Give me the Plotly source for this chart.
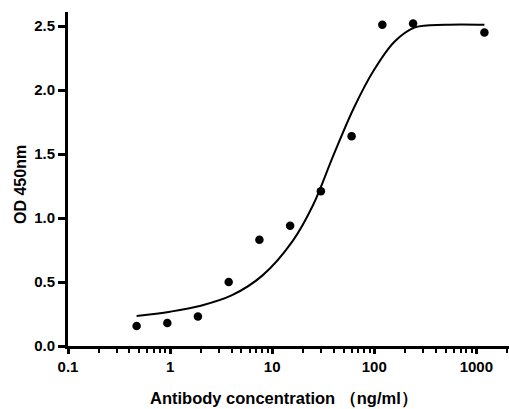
import plotly.graph_objects as go

# Measured points
conc = [0.47, 0.94, 1.875, 3.75, 7.5, 15, 30, 60, 120, 240, 1200]
od = [0.156, 0.18, 0.23, 0.50, 0.83, 0.94, 1.21, 1.64, 2.51, 2.52, 2.45]

# Fitted curve
curve_x = [0.47, 1.0, 2.0, 4.0, 8.0, 15.85, 25.1, 39.8, 63.1, 100, 158.5, 251, 500, 1200]
curve_y = [0.234, 0.268, 0.315, 0.395, 0.55, 0.82, 1.10, 1.49, 1.86, 2.16, 2.38, 2.49, 2.51, 2.51]

x_ticks = [0.1, 1, 10, 100, 1000]
x_labels = ["0.1", "1", "10", "100", "1000"]
y_ticks = [0.0, 0.5, 1.0, 1.5, 2.0, 2.5]
y_labels = ["0.0", "0.5", "1.0", "1.5", "2.0", "2.5"]
x_title = "Antibody concentration （ng/ml）"
y_title = "OD 450nm"

minor_vals = [m * 10 ** e for e in range(-1, 4) for m in range(2, 10) if m * 10 ** e < 2100]

font = "Liberation Sans, Arial, sans-serif"

fig = go.Figure()
fig.add_trace(go.Scatter(x=curve_x, y=curve_y, mode="lines",
                         line=dict(color="black", width=2, shape="spline", smoothing=1.0),
                         hoverinfo="skip", showlegend=False))
fig.add_trace(go.Scatter(x=conc, y=od, mode="markers",
                         marker=dict(color="black", size=8.5),
                         showlegend=False))

fig.update_layout(
    width=509, height=409,
    margin=dict(l=68, r=0, t=12, b=63, autoexpand=False),
    paper_bgcolor="white", plot_bgcolor="white",
    font=dict(family=font, color="black"),
    annotations=[
        dict(text=x_title, xref="paper", yref="paper", x=0.5, y=0,
             xanchor="center", yanchor="middle", yshift=-52, xshift=-5, showarrow=False,
             font=dict(family=font, size=16.5, color="black", weight="bold")),
        dict(text=y_title, xref="paper", yref="paper", x=0, y=0.5,
             xanchor="center", yanchor="middle", xshift=-48, yshift=-6, textangle=-90,
             showarrow=False,
             font=dict(family=font, size=16, color="black", weight="bold")),
    ],
)
fig.update_xaxes(
    type="log", range=[-1, 3.32], automargin=False,
    tickvals=x_ticks, ticktext=x_labels,
    ticks="outside", ticklen=5, tickwidth=2.5, tickcolor="black",
    minor=dict(tickvals=minor_vals, ticks="outside", ticklen=4, tickwidth=2,
               tickcolor="black", showgrid=False),
    showline=True, linecolor="black", linewidth=3,
    showgrid=False, zeroline=False,
    tickfont=dict(family=font, size=15, color="black", weight="bold"),
)
fig.update_yaxes(
    range=[0, 2.61], automargin=False,
    tickvals=y_ticks, ticktext=y_labels,
    ticks="outside", ticklen=7, tickwidth=2.5, tickcolor="black",
    showline=True, linecolor="black", linewidth=3,
    showgrid=False, zeroline=False,
    tickfont=dict(family=font, size=15, color="black", weight="bold"),
)

fig.write_html("out.html", config={"displayModeBar": False},
               post_script="document.body.style.margin='0';")
